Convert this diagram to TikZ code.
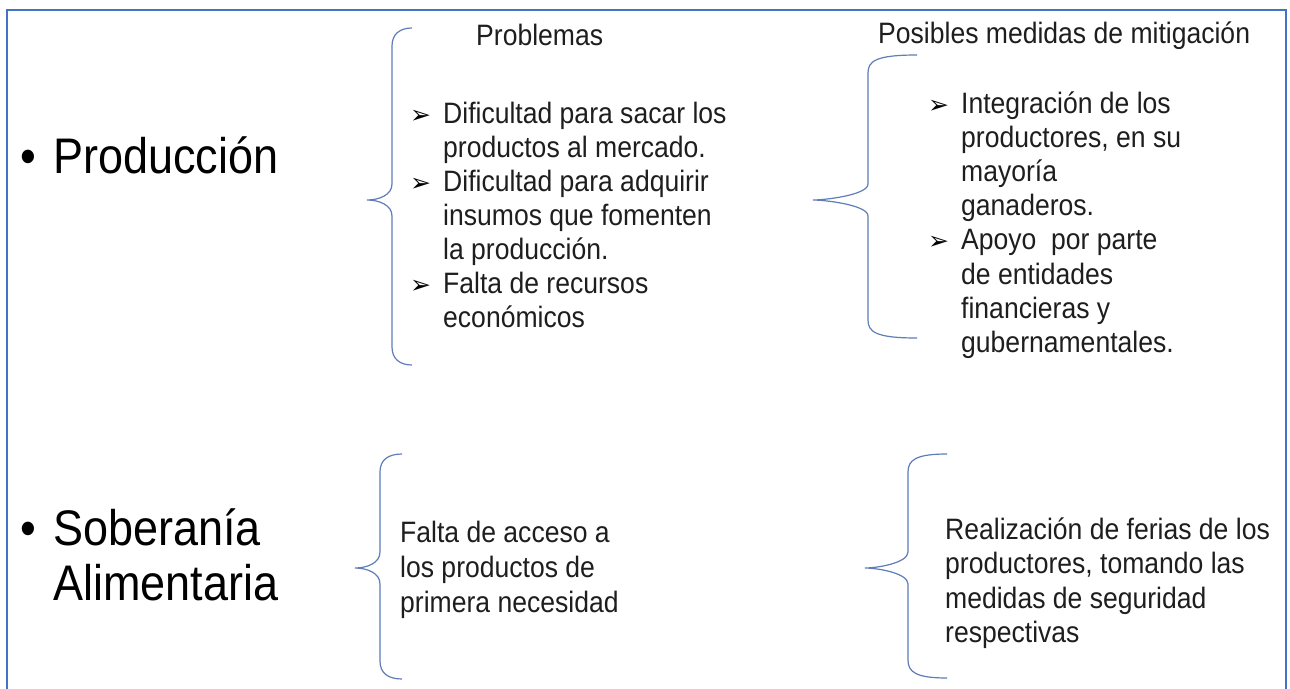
\documentclass[tikz,border=0pt]{standalone}
\usepackage{fontspec}
\setmainfont{Liberation Sans}[FakeStretch=0.9]
\newfontfamily\dingfont{DejaVu Sans}
\definecolor{framecol}{RGB}{68,114,196}
\definecolor{bracecol}{RGB}{95,125,185}
\definecolor{txtcol}{RGB}{30,30,30}
\newcommand\txtblock[2]{\vtop{\baselineskip=#1\relax\lineskiplimit=-100pt\halign{##\hfil\cr#2\crcr}}}
\newcommand\mybrace[6]{%
  \draw[bracestyle] (#1,#4) .. controls (#2+8,#4) and (#2,#4+6) .. (#2,#4+18)
    -- (#2,#5-16) .. controls (#2,#5-5) and (#3+12,#5) .. (#3,#5)
    .. controls (#3+12,#5) and (#2,#5+5) .. (#2,#5+16)
    -- (#2,#6-18) .. controls (#2,#6-6) and (#2+8,#6) .. (#1,#6);}
\begin{document}
\begin{tikzpicture}[x=1pt,y=-1pt,
  big/.style={inner sep=0pt,font=\fontsize{50}{55}\selectfont,text=black},
  txt/.style={inner sep=0pt,font=\fontsize{29.5}{34.2}\selectfont,text=txtcol},
  arrowbul/.style={inner sep=0pt,font=\dingfont\fontsize{25}{28}\selectfont,text=black},
  bracestyle/.style={draw=bracecol,line width=1.2pt},
  framestyle/.style={draw=framecol,line width=1.6pt}]
\useasboundingbox (0,0) rectangle (1290,688);
\fill[white] (0,0) rectangle (1290,688);
\draw[framestyle] (7,690) -- (7,10) -- (1286,10) -- (1286,690);

% left headings
\node[big,anchor=base] (b1) at (28,173) {•};
\node[big,anchor=base west] (prod) at (53,173) {Producción};
\node[big,anchor=base] (b2) at (28,545) {•};
\node[big,anchor=base west] (sob) at (53,545) {\txtblock{55pt}{Soberanía\cr Alimentaria}};

% column headings
\node[txt,anchor=base west] (hprob) at (476,45) {Problemas};
\node[txt,anchor=base west] (hmed) at (878,43) {Posibles medidas de mitigación};

% braces
\mybrace{412}{392}{367}{28}{200}{365}
\mybrace{917}{868}{813}{55}{200}{338}
\mybrace{402}{380}{355}{454}{568}{679}
\mybrace{947}{908}{865}{454}{568}{678}

% problems
\node[arrowbul,anchor=base west] (a1) at (410,123) {➢};
\node[arrowbul,anchor=base west] (a2) at (410,191.4) {➢};
\node[arrowbul,anchor=base west] (a3) at (410,293.6) {➢};
\node[txt,anchor=base west] (p1) at (443,123) {\txtblock{34.2pt}{Dificultad para sacar los\cr productos al mercado.}};
\node[txt,anchor=base west] (p2) at (443,191.4) {\txtblock{34.2pt}{Dificultad para adquirir\cr insumos que fomenten\cr la producción.}};
\node[txt,anchor=base west] (p3) at (443,293.6) {\txtblock{34.2pt}{Falta de recursos\cr económicos}};

% measures
\node[arrowbul,anchor=base west] (a4) at (928,113) {➢};
\node[arrowbul,anchor=base west] (a5) at (928,249.8) {➢};
\node[txt,anchor=base west] (m1) at (961,113) {\txtblock{34.2pt}{Integración de los\cr productores, en su\cr mayoría\cr ganaderos.}};
\node[txt,anchor=base west] (m2) at (961,249.8) {\txtblock{34.2pt}{Apoyo~ por parte\cr de entidades\cr financieras y\cr gubernamentales.}};

% bottom row
\node[txt,anchor=base west] (f1) at (400,542) {\txtblock{35pt}{Falta de acceso a\cr los productos de\cr primera necesidad}};
\node[txt,anchor=base west] (r1) at (945,539) {\txtblock{34.5pt}{Realización de ferias de los\cr productores, tomando las\cr medidas de seguridad\cr respectivas}};
\end{tikzpicture}
\end{document}
